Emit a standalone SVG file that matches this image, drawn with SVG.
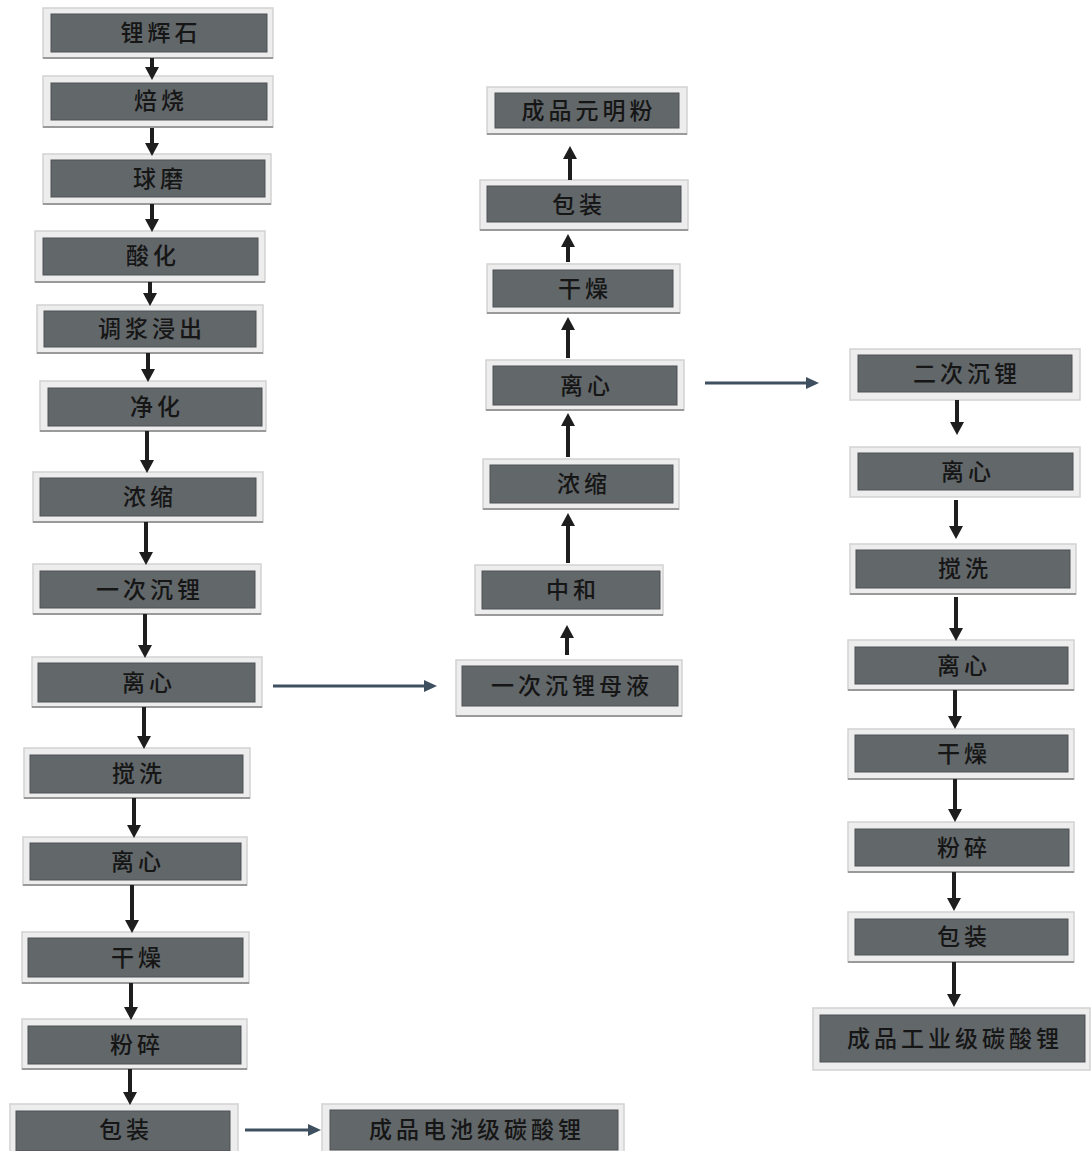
<svg xmlns="http://www.w3.org/2000/svg" width="1092" height="1151" viewBox="0 0 1092 1151">
<defs>
<style>
.fr{fill:#ededed;stroke:#d2d2d2;stroke-width:1.5}
.in{fill:#62676a;stroke:#4e5356;stroke-width:1}
.bl{stroke:#9a9a9a;stroke-width:2}
.t{font-family:"Noto Sans CJK SC","Noto Sans",sans-serif;font-size:23px;fill:#161616;text-anchor:middle;letter-spacing:4px;font-weight:500}
.va{stroke:#1e1e1e;stroke-width:4;fill:none;marker-end:url(#ah)}
.ha{stroke:#3e5060;stroke-width:3;fill:none;marker-end:url(#hh)}
</style>
<marker id="ah" markerUnits="userSpaceOnUse" markerWidth="16" markerHeight="16" refX="3" refY="8" orient="auto">
<path d="M0,1 L13,8 L0,15 z" fill="#1e1e1e"/>
</marker>
<marker id="hh" markerUnits="userSpaceOnUse" markerWidth="16" markerHeight="14" refX="3" refY="7" orient="auto">
<path d="M0,1 L13,7 L0,13 z" fill="#3e5060"/>
</marker>
</defs>
<rect width="1092" height="1151" fill="#ffffff"/>

<g id="n1"><rect class="fr" x="43" y="8" width="230" height="50"/><line class="bl" x1="43" y1="58" x2="273" y2="58"/><rect class="in" x="51" y="14" width="216" height="38"/><text class="t" x="161" y="41">锂辉石</text></g>
<g id="n2"><rect class="fr" x="43" y="76" width="230" height="51"/><line class="bl" x1="43" y1="127" x2="273" y2="127"/><rect class="in" x="51" y="83" width="216" height="37"/><text class="t" x="161" y="109">焙烧</text></g>
<g id="n3"><rect class="fr" x="43" y="154" width="228" height="50"/><line class="bl" x1="43" y1="204" x2="271" y2="204"/><rect class="in" x="51" y="160" width="214" height="37"/><text class="t" x="160" y="187">球磨</text></g>
<g id="n4"><rect class="fr" x="35" y="231" width="230" height="51"/><line class="bl" x1="35" y1="282" x2="265" y2="282"/><rect class="in" x="43" y="238" width="215" height="37"/><text class="t" x="153" y="264">酸化</text></g>
<g id="n5"><rect class="fr" x="37" y="305" width="226" height="48"/><line class="bl" x1="37" y1="353" x2="263" y2="353"/><rect class="in" x="44" y="311" width="212" height="36"/><text class="t" x="152" y="337">调浆浸出</text></g>
<g id="n6"><rect class="fr" x="40" y="381" width="226" height="50"/><line class="bl" x1="40" y1="431" x2="266" y2="431"/><rect class="in" x="48" y="388" width="214" height="38"/><text class="t" x="157" y="415">净化</text></g>
<g id="n7"><rect class="fr" x="33" y="472" width="230" height="50"/><line class="bl" x1="33" y1="522" x2="263" y2="522"/><rect class="in" x="40" y="478" width="216" height="38"/><text class="t" x="150" y="505">浓缩</text></g>
<g id="n8"><rect class="fr" x="33" y="564" width="228" height="50"/><line class="bl" x1="33" y1="614" x2="261" y2="614"/><rect class="in" x="40" y="571" width="215" height="37"/><text class="t" x="150" y="598">一次沉锂</text></g>
<g id="n9"><rect class="fr" x="32" y="657" width="230" height="50"/><line class="bl" x1="32" y1="707" x2="262" y2="707"/><rect class="in" x="38" y="663" width="217" height="39"/><text class="t" x="149" y="691">离心</text></g>
<g id="n10"><rect class="fr" x="24" y="748" width="226" height="50"/><line class="bl" x1="24" y1="798" x2="250" y2="798"/><rect class="in" x="30" y="755" width="213" height="38"/><text class="t" x="139" y="782">搅洗</text></g>
<g id="n11"><rect class="fr" x="23" y="837" width="224" height="48"/><line class="bl" x1="23" y1="885" x2="247" y2="885"/><rect class="in" x="30" y="843" width="211" height="37"/><text class="t" x="138" y="870">离心</text></g>
<g id="n12"><rect class="fr" x="22" y="932" width="227" height="51"/><line class="bl" x1="22" y1="983" x2="249" y2="983"/><rect class="in" x="28" y="938" width="215" height="39"/><text class="t" x="138" y="966">干燥</text></g>
<g id="n13"><rect class="fr" x="22" y="1019" width="225" height="50"/><line class="bl" x1="22" y1="1069" x2="247" y2="1069"/><rect class="in" x="28" y="1026" width="213" height="38"/><text class="t" x="137" y="1053">粉碎</text></g>
<g id="n14"><rect class="fr" x="10" y="1104" width="228" height="50"/><rect class="in" x="16" y="1111" width="214" height="40"/><text class="t" x="126" y="1138">包装</text></g>
<g id="n15"><rect class="fr" x="322" y="1104" width="302" height="50"/><rect class="in" x="330" y="1110" width="288" height="40"/><text class="t" x="477" y="1138">成品电池级碳酸锂</text></g>

<g id="m1"><rect class="fr" x="487" y="87" width="200" height="47"/><line class="bl" x1="487" y1="134" x2="687" y2="134"/><rect class="in" x="495" y="93" width="184" height="35"/><text class="t" x="589" y="119">成品元明粉</text></g>
<g id="m2"><rect class="fr" x="480" y="180" width="208" height="50"/><line class="bl" x1="480" y1="230" x2="688" y2="230"/><rect class="in" x="487" y="186" width="194" height="36"/><text class="t" x="579" y="213">包装</text></g>
<g id="m3"><rect class="fr" x="487" y="264" width="193" height="49"/><line class="bl" x1="487" y1="313" x2="680" y2="313"/><rect class="in" x="493" y="270" width="180" height="37"/><text class="t" x="585" y="297">干燥</text></g>
<g id="m4"><rect class="fr" x="486" y="360" width="198" height="50"/><line class="bl" x1="486" y1="410" x2="684" y2="410"/><rect class="in" x="493" y="366" width="184" height="39"/><text class="t" x="587" y="394">离心</text></g>
<g id="m5"><rect class="fr" x="483" y="459" width="196" height="50"/><line class="bl" x1="483" y1="509" x2="679" y2="509"/><rect class="in" x="490" y="465" width="183" height="38"/><text class="t" x="584" y="492">浓缩</text></g>
<g id="m6"><rect class="fr" x="475" y="565" width="188" height="50"/><line class="bl" x1="475" y1="615" x2="663" y2="615"/><rect class="in" x="482" y="571" width="178" height="38"/><text class="t" x="573" y="598">中和</text></g>
<g id="m7"><rect class="fr" x="456" y="660" width="226" height="56"/><line class="bl" x1="456" y1="716" x2="682" y2="716"/><rect class="in" x="462" y="666" width="216" height="40"/><text class="t" x="572" y="694">一次沉锂母液</text></g>

<g id="r1"><rect class="fr" x="850" y="349" width="230" height="51"/><rect class="in" x="858" y="355" width="214" height="37"/><text class="t" x="967" y="382">二次沉锂</text></g>
<g id="r2"><rect class="fr" x="850" y="447" width="230" height="50"/><rect class="in" x="858" y="453" width="215" height="37"/><text class="t" x="968" y="480">离心</text></g>
<g id="r3"><rect class="fr" x="850" y="544" width="226" height="50"/><line class="bl" x1="850" y1="594" x2="1076" y2="594"/><rect class="in" x="856" y="550" width="214" height="38"/><text class="t" x="965" y="577">搅洗</text></g>
<g id="r4"><rect class="fr" x="848" y="640" width="226" height="50"/><line class="bl" x1="848" y1="690" x2="1074" y2="690"/><rect class="in" x="855" y="647" width="213" height="37"/><text class="t" x="964" y="674">离心</text></g>
<g id="r5"><rect class="fr" x="848" y="729" width="226" height="50"/><line class="bl" x1="848" y1="779" x2="1074" y2="779"/><rect class="in" x="855" y="735" width="213" height="37"/><text class="t" x="964" y="762">干燥</text></g>
<g id="r6"><rect class="fr" x="848" y="822" width="226" height="50"/><line class="bl" x1="848" y1="872" x2="1074" y2="872"/><rect class="in" x="855" y="829" width="214" height="37"/><text class="t" x="964" y="856">粉碎</text></g>
<g id="r7"><rect class="fr" x="848" y="912" width="226" height="50"/><line class="bl" x1="848" y1="962" x2="1074" y2="962"/><rect class="in" x="855" y="919" width="213" height="36"/><text class="t" x="964" y="945">包装</text></g>
<g id="r8"><rect class="fr" x="813" y="1008" width="277" height="62"/><rect class="in" x="820" y="1015" width="265" height="47"/><text class="t" x="955" y="1047">成品工业级碳酸锂</text></g>

<g id="connectors">
<line class="va" x1="152" y1="58" x2="152" y2="70"/>
<line class="va" x1="152" y1="128" x2="152" y2="146"/>
<line class="va" x1="152" y1="204" x2="152" y2="222"/>
<line class="va" x1="150" y1="282" x2="150" y2="296"/>
<line class="va" x1="148" y1="353" x2="148" y2="372"/>
<line class="va" x1="147" y1="431" x2="147" y2="463"/>
<line class="va" x1="146" y1="522" x2="146" y2="555"/>
<line class="va" x1="145" y1="614" x2="145" y2="648"/>
<line class="va" x1="144" y1="707" x2="144" y2="739"/>
<line class="va" x1="134" y1="798" x2="134" y2="828"/>
<line class="va" x1="132" y1="885" x2="132" y2="923"/>
<line class="va" x1="131" y1="983" x2="131" y2="1010"/>
<line class="va" x1="130" y1="1069" x2="130" y2="1095"/>
<line class="ha" x1="273" y1="686" x2="427" y2="686"/>
<line class="ha" x1="245" y1="1130" x2="311" y2="1130"/>
<line class="ha" x1="705" y1="383" x2="809" y2="383"/>
<line class="va" x1="567" y1="655" x2="567" y2="635"/>
<line class="va" x1="568" y1="563" x2="568" y2="523"/>
<line class="va" x1="568" y1="457" x2="568" y2="423"/>
<line class="va" x1="568" y1="358" x2="568" y2="327"/>
<line class="va" x1="568" y1="262" x2="568" y2="244"/>
<line class="va" x1="570" y1="180" x2="570" y2="156"/>
<line class="va" x1="957" y1="400" x2="957" y2="425"/>
<line class="va" x1="956" y1="500" x2="956" y2="529"/>
<line class="va" x1="956" y1="597" x2="956" y2="631"/>
<line class="va" x1="955" y1="690" x2="955" y2="719"/>
<line class="va" x1="955" y1="779" x2="955" y2="812"/>
<line class="va" x1="954" y1="872" x2="954" y2="901"/>
<line class="va" x1="954" y1="962" x2="954" y2="997"/>
</g>
</svg>
